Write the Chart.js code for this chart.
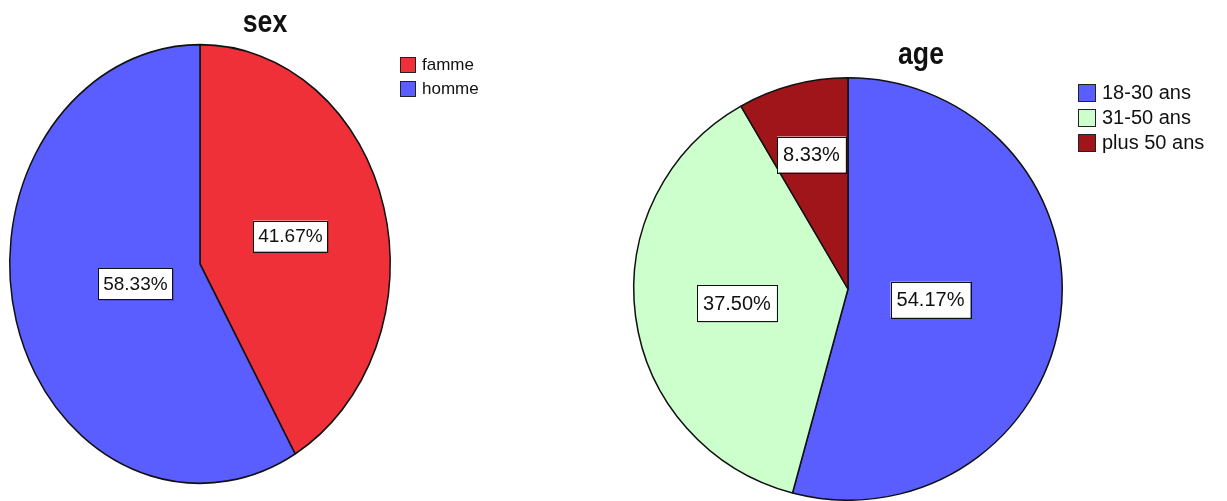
<!DOCTYPE html>
<html>
<head>
<meta charset="utf-8">
<script src="https://cdn.jsdelivr.net/npm/chart.js@4"></script>
<style>
  body { margin: 0; background: #fff; width: 1227px; height: 501px; overflow: hidden; position: relative; font-family: "Liberation Sans", Arial, sans-serif; }
  canvas { position: absolute; top: 0; }
  .titre { position: absolute; font-weight: bold; font-size: 31px; line-height: 31px; transform: scaleX(0.86); transform-origin: center; color: #111; }
  .legende { position: absolute; color: #111; }
  .legende div { display: flex; align-items: center; }
  .legende span.b { display: inline-block; border: 1px solid #222; box-sizing: border-box; }
</style>
</head>
<body>
<canvas id="g1" width="600" height="501" style="left:0px;width:600px;height:501px"></canvas>
<canvas id="g2" width="607" height="501" style="left:620px;width:607px;height:501px"></canvas>
<div class="titre" id="t1" style="left:215px;top:6px;width:100px;text-align:center"></div>
<div class="titre" id="t2" style="left:871px;top:38px;width:100px;text-align:center"></div>
<div class="legende" id="l1" style="left:400px;top:53px;font-size:17px"></div>
<div class="legende" id="l2" style="left:1078px;top:80px;font-size:20px"></div>
<script>
// donnees
const sexLabels = ['famme', 'homme'];
const sexValues = [41.67, 58.33];
const sexColors = ['#ef3039', '#5a5eff'];

const ageLabels = ['18-30 ans', '31-50 ans', 'plus 50 ans'];
const ageValues = [54.17, 37.50, 8.33];
const ageColors = ['#5a5eff', '#ccffcc', '#a0151a'];

// etire le camembert en ellipse (comme SPSS)
const ellipse = {
    id: 'ellipse',
    beforeDatasetsDraw(chart, args, opts) {
        const a = chart.chartArea;
        const cx = (a.left + a.right) / 2, cy = (a.top + a.bottom) / 2;
        const ctx = chart.ctx;
        ctx.save();
        ctx.translate(cx, cy);
        ctx.scale(opts.sx || 1, opts.sy || 1);
        ctx.translate(-cx, -cy);
    },
    afterDatasetsDraw(chart) {
        chart.ctx.restore();
    }
};

// etiquettes en pourcentage dans des boites blanches
const etiquettes = {
    id: 'etiquettes',
    afterDraw(chart, args, opts) {
        const ctx = chart.ctx;
        const sx = chart.options.plugins.ellipse.sx || 1;
        const sy = chart.options.plugins.ellipse.sy || 1;
        const vals = chart.data.datasets[0].data;
        ctx.save();
        ctx.font = opts.size + 'px "Liberation Sans", Arial, sans-serif';
        ctx.textAlign = 'center';
        ctx.textBaseline = 'middle';
        chart.getDatasetMeta(0).data.forEach((arc, i) => {
            const p = arc.getProps(['x', 'y', 'startAngle', 'endAngle', 'outerRadius']);
            const half = (p.endAngle - p.startAngle) / 2;
            const mid = p.startAngle + half;
            const d = (2 / 3) * p.outerRadius * Math.sin(half) / half;
            const x = p.x + Math.cos(mid) * d * sx;
            const y = p.y + Math.sin(mid) * d * sy;
            const txt = vals[i].toFixed(2) + '%';
            const w = ctx.measureText(txt).width + opts.padX * 2;
            const h = opts.h;
            ctx.fillStyle = 'rgba(0,0,0,0.35)';
            ctx.fillRect(x - w / 2 + 1, y - h / 2 + 1, w, h);
            ctx.fillStyle = '#fff';
            ctx.fillRect(x - w / 2, y - h / 2, w, h);
            ctx.strokeStyle = '#111';
            ctx.lineWidth = 1;
            ctx.strokeRect(Math.round(x - w / 2) + 0.5, Math.round(y - h / 2) + 0.5, Math.round(w), Math.round(h));
            ctx.fillStyle = '#111';
            ctx.fillText(txt, x, y + 1);
        });
        ctx.restore();
    }
};

function camembert(id, labels, values, colors, padding, sx, sy, size, padX, h) {
    return new Chart(document.getElementById(id), {
        type: 'pie',
        data: {
            labels: labels,
            datasets: [{
                data: values,
                backgroundColor: colors,
                borderColor: '#111',
                borderWidth: 1.5
            }]
        },
        options: {
            responsive: false,
            animation: false,
            layout: { padding: padding },
            plugins: {
                legend: { display: false },
                title: { display: false },
                tooltip: { enabled: false },
                ellipse: { sx: sx, sy: sy },
                etiquettes: { size: size, padX: padX, h: h }
            }
        },
        plugins: [ellipse, etiquettes]
    });
}

camembert('g1', sexLabels, sexValues, sexColors,
    { left: 9, right: 209, top: 73, bottom: 46 }, 1, 219 / 190, 19, 5, 31);
camembert('g2', ageLabels, ageValues, ageColors,
    { left: 15, right: 166, top: 77, bottom: 0 }, 215 / 212, 1, 20, 6, 36);

function legende(id, labels, colors, box, row, gap) {
    const el = document.getElementById(id);
    labels.forEach((l, i) => {
        const r = document.createElement('div');
        r.style.height = row + 'px';
        r.innerHTML = '<span class="b" style="width:' + box + 'px;height:' + box + 'px;background:' + colors[i] + '"></span>' +
            '<span style="margin-left:' + gap + 'px">' + l + '</span>';
        el.appendChild(r);
    });
}
document.getElementById('t1').textContent = 'sex';
document.getElementById('t2').textContent = 'age';
legende('l1', sexLabels, sexColors, 16, 24, 6);
legende('l2', ageLabels, ageColors, 18, 25, 6);
</script>
</body>
</html>
